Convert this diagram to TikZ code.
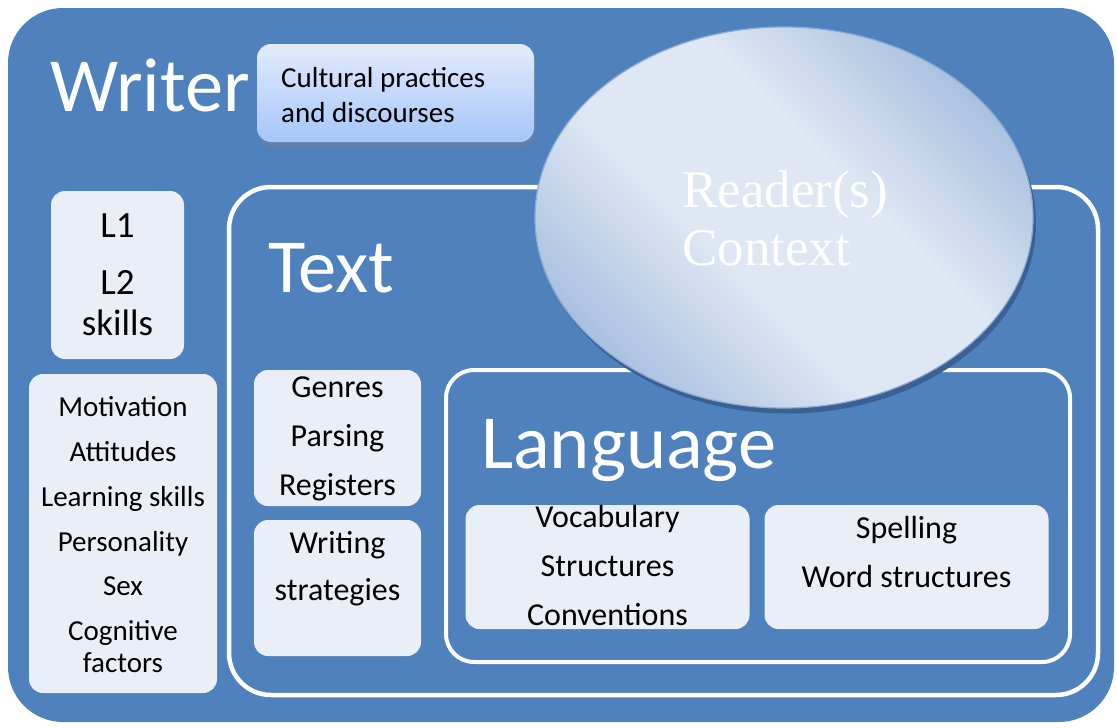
\documentclass[tikz,border=0pt]{standalone}
\usepackage{fontspec}
\setmainfont{Carlito}
\newfontfamily\readerfont{Liberation Serif}
\usetikzlibrary{shapes.geometric}
\definecolor{bgblue}{RGB}{79,129,189}
\definecolor{boxfill}{RGB}{234,239,247}
\definecolor{culttop}{RGB}{226,235,251}
\definecolor{cultbot}{RGB}{166,198,250}
\definecolor{elldark}{RGB}{167,191,222}
\definecolor{elllight}{RGB}{222,231,243}
\definecolor{shadowblue}{RGB}{58,96,148}
\definecolor{ellrim}{RGB}{140,170,212}
\definecolor{cultshadow}{RGB}{100,128,168}
\pgfdeclarehorizontalshading{ellshade}{100bp}{color(0bp)=(elldark); color(24bp)=(elldark); color(42bp)=(elllight); color(58bp)=(elllight); color(76bp)=(elldark); color(100bp)=(elldark)}
\tikzset{
  lightbox/.style={rectangle, rounded corners=14pt, fill=boxfill, inner sep=0pt, outer sep=0pt},
  txt/.style={anchor=base, inner sep=0pt, text=black, font=\fontsize{29}{35}\selectfont},
  midtxt/.style={anchor=base, inner sep=0pt, text=black, font=\fontsize{32}{38}\selectfont},
  bigtxt/.style={anchor=base, inner sep=0pt, text=black, font=\fontsize{37}{42}\selectfont},
  title/.style={anchor=base west, inner sep=0pt, text=white, font=\fontsize{76.5}{82}\selectfont},
  frame/.style={draw=white, line width=4.5pt}
}
\begin{document}
\begin{tikzpicture}[x=1pt,y=-1pt]
\useasboundingbox (0,0) rectangle (1117,728);
% outer writer area
\fill[bgblue, rounded corners=55pt] (8,8) rectangle (1114,722);
\node[title] (writer) at (50,111) {Writer};
% cultural practices box
\fill[cultshadow, rounded corners=14pt] (259,49) rectangle (536,147);
\node[rectangle, rounded corners=14pt, top color=culttop, bottom color=cultbot, inner sep=0pt,
      minimum width=277pt, minimum height=98pt] (cult) at (395.5,93) {};
\node[anchor=base west, inner sep=0pt, font=\fontsize{29}{35}\selectfont] (cult1) at (281,87) {Cultural practices};
\node[anchor=base west, inner sep=0pt, font=\fontsize{29}{35}\selectfont] (cult2) at (281,122) {and discourses};
% L1 box
\node[lightbox, minimum width=133pt, minimum height=168pt] (l1box) at (117.5,275) {};
\node[bigtxt] (l1) at (117.5,237) {L1};
\node[bigtxt] (l2) at (117.5,294) {L2};
\node[bigtxt] (sk) at (117.5,335) {skills};
% motivation box
\node[lightbox, minimum width=188pt, minimum height=319pt] (motbox) at (123,533.5) {};
\node[txt] (m1) at (123,416) {Motivation};
\node[txt] (m2) at (123,461) {Attitudes};
\node[txt] (m3) at (123,506) {Learning skills};
\node[txt] (m4) at (123,551) {Personality};
\node[txt] (m5) at (123,595) {Sex};
\node[txt] (m6) at (123,640) {Cognitive};
\node[txt] (m7) at (123,672) {factors};
% Text frame
\draw[frame, rounded corners=42pt] (229,187) rectangle (1098,695);
\node[title] (text) at (268,292) {Text};
\node[lightbox, minimum width=167pt, minimum height=136pt] (genbox) at (337.5,438) {};
\node[midtxt] (g1) at (337.5,397) {Genres};
\node[midtxt] (g2) at (337.5,446) {Parsing};
\node[midtxt] (g3) at (337.5,495) {Registers};
\node[lightbox, minimum width=167pt, minimum height=136pt] (wrbox) at (337.5,588) {};
\node[midtxt] (w1) at (337.5,553) {Writing};
\node[midtxt] (w2) at (337.5,600) {strategies};
% Language frame
\draw[frame, line width=4pt, rounded corners=28pt] (446,370) rectangle (1070,662);
\node[title] (lang) at (481,468) {Language};
\node[lightbox, minimum width=284pt, minimum height=124pt] (vocbox) at (607.5,567) {};
\node[midtxt] (v1) at (607.5,527) {Vocabulary};
\node[midtxt] (v2) at (607.5,576) {Structures};
\node[midtxt] (v3) at (607.5,625) {Conventions};
\node[lightbox, minimum width=284pt, minimum height=124pt] (spbox) at (906.5,567) {};
\node[midtxt] (s1) at (906.5,538) {Spelling};
\node[midtxt] (s2) at (906.5,587) {Word structures};
% Reader ellipse
\node[ellipse, fill=shadowblue, inner sep=0pt, minimum width=498pt, minimum height=381pt] (readershadow) at (787,223) {};
\node[ellipse, draw=ellrim, line width=1.2pt, shade, shading=ellshade, shading angle=45, inner sep=0pt,
      minimum width=498pt, minimum height=381pt] (reader) at (784,217.5) {};
\node[anchor=base west, inner sep=0pt, text=white, font=\readerfont\fontsize{53}{58}\selectfont] (rd1) at (682,207) {Reader(s)};
\node[anchor=base west, inner sep=0pt, text=white, font=\readerfont\fontsize{53}{58}\selectfont] (rd2) at (682,265) {Context};
\end{tikzpicture}
\end{document}
